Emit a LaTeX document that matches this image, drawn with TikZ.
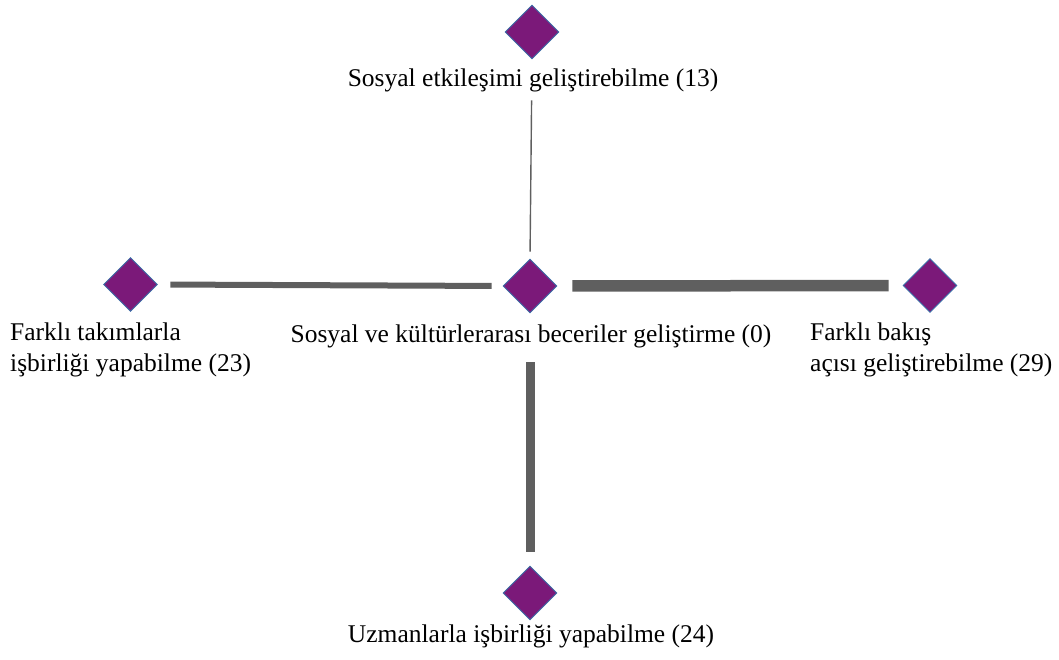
\documentclass[tikz,border=0pt]{standalone}
\usepackage{fontspec}
\setmainfont{Liberation Serif}
\usetikzlibrary{shapes.geometric}
\definecolor{gem}{HTML}{7B1979}
\definecolor{gemrim}{HTML}{3B6FA8}
\definecolor{link}{HTML}{5F5F5F}
\tikzset{
  gemnode/.style={diamond, fill=gem, draw=gemrim, line width=0.9pt,
    minimum width=54pt, minimum height=54pt, inner sep=0pt},
  caption/.style={font=\fontsize{25.5}{31}\selectfont, inner sep=0pt, text=black},
  linkline/.style={draw=link}
}
\begin{document}
\begin{tikzpicture}[x=1pt,y=-1pt]
  \useasboundingbox (0,0) rectangle (1059,660);
  % diamond markers
  \node[gemnode] (c) at (530,286) {};
  \node[gemnode] (t) at (532,32) {};
  \node[gemnode] (l) at (130.5,284.5) {};
  \node[gemnode] (r) at (930,285.5) {};
  \node[gemnode] (b) at (530,593) {};
  % captions
  \node[caption, anchor=base] (tl) at (533,87) {Sosyal etkileşimi geliştirebilme (13)};
  \node[caption, anchor=base] (cl) at (531,342) {Sosyal ve kültürlerarası beceriler geliştirme (0)};
  \node[caption, anchor=base] (bl) at (531,642) {Uzmanlarla işbirliği yapabilme (24)};
  \node[caption, anchor=north west, align=left] (ll) at (10,322.5) {Farklı takımlarla\\işbirliği yapabilme (23)};
  \node[caption, anchor=north west, align=left] (rl) at (810,322.5) {Farklı bakış\\açısı geliştirebilme (29)};
  % connectors, width by weight
  \draw[linkline, line width=1.4pt, shorten <=41pt, shorten >=7pt] (t.south) -- (c.north);
  \draw[linkline, line width=6pt, shorten <=12.5pt, shorten >=11pt] (l.east) -- (c.west);
  \draw[linkline, line width=11.5pt, shorten <=15pt, shorten >=14pt] (c.east) -- (r.west);
  \draw[linkline, line width=9pt, shorten <=49pt, shorten >=14pt] (c.south) -- (b.north);
\end{tikzpicture}
\end{document}
